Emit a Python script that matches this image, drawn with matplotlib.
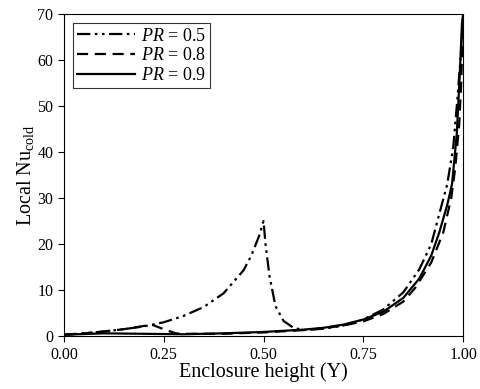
import matplotlib
matplotlib.use("Agg")
import matplotlib.pyplot as plt

plt.rcParams['font.family'] = ['Liberation Serif', 'DejaVu Serif']
plt.rcParams['mathtext.fontset'] = 'custom'
plt.rcParams['mathtext.rm'] = 'Liberation Serif'
plt.rcParams['mathtext.it'] = 'Liberation Serif:italic'

# PR = 0.5
y_05 = [0, 0.05, 0.1, 0.15, 0.2, 0.25, 0.3, 0.35, 0.4, 0.45, 0.47, 0.49, 0.5,
        0.505, 0.515, 0.53, 0.55, 0.575, 0.6, 0.65, 0.7, 0.75, 0.8, 0.85, 0.89,
        0.92, 0.94, 0.96, 0.975, 0.985, 0.993, 1.0]
nu_05 = [0.3, 0.6, 1.0, 1.5, 2.1, 3.0, 4.4, 6.3, 9.3, 14.3, 17.6, 22, 25,
         20, 13, 6.5, 3.3, 1.8, 1.3, 1.6, 2.3, 3.6, 5.8, 9.5, 14.5,
         20, 26.5, 33, 41, 51, 60, 70]

# PR = 0.8
y_08 = [0, 0.05, 0.1, 0.15, 0.2, 0.22, 0.25, 0.28, 0.3, 0.4, 0.5, 0.6, 0.65,
        0.7, 0.75, 0.8, 0.85, 0.88, 0.92, 0.95, 0.97, 0.98, 0.99, 0.995, 1.0]
nu_08 = [0.3, 0.6, 1.0, 1.5, 2.2, 2.5, 1.5, 0.6, 0.5, 0.5, 0.8, 1.3, 1.7,
         2.3, 3.2, 4.8, 7.5, 10.5, 16, 22.5, 30, 36.5, 46, 55, 70]

# PR = 0.9
y_09 = [0, 0.1, 0.2, 0.3, 0.4, 0.5, 0.6, 0.65, 0.7, 0.75, 0.8, 0.85, 0.89,
        0.92, 0.94, 0.96, 0.972, 0.984, 0.992, 0.997, 1.0]
nu_09 = [0.3, 0.6, 0.5, 0.4, 0.6, 0.9, 1.4, 1.8, 2.5, 3.6, 5.3, 8.3, 12.5,
         17.5, 22.5, 28.5, 33, 44, 58, 68, 70]

xticks = [0.0, 0.25, 0.5, 0.75, 1.0]
yticks = [0, 10, 20, 30, 40, 50, 60, 70]

fig = plt.figure(figsize=(4.8, 3.89), dpi=100)
ax = fig.add_axes([0.133, 0.136, 0.832, 0.828])

ax.plot(y_05, nu_05, color='black', lw=1.6, linestyle=(0, (6, 2, 1.2, 2, 1.2, 2)),
        label=r'$PR$ = 0.5')
ax.plot(y_08, nu_08, color='black', lw=1.6, linestyle=(0, (5, 3)),
        label=r'$PR$ = 0.8')
ax.plot(y_09, nu_09, color='black', lw=1.6, linestyle='-',
        label=r'$PR$ = 0.9')

ax.set_xlim(0, 1)
ax.set_ylim(0, 70)
ax.set_xticks(xticks)
ax.set_xticklabels([f"{t:.2f}" for t in xticks])
ax.set_yticks(yticks)
ax.tick_params(direction='out', length=4, width=0.8, labelsize=11.5, colors='black')
for s in ax.spines.values():
    s.set_linewidth(0.8)

ax.set_xlabel('Enclosure height (Y)', fontsize=14.5, labelpad=0)
ax.set_ylabel(r'Local Nu$_{\mathrm{cold}}$', fontsize=14.5, labelpad=1)

leg = ax.legend(loc='upper left', fontsize=13, frameon=True, fancybox=False,
                edgecolor='black', handlelength=3.2, handletextpad=0.3,
                borderpad=0.25, labelspacing=0.15, borderaxespad=0.5)
leg.get_frame().set_linewidth(0.8)

fig.savefig('out.png', dpi=100, facecolor='white')
